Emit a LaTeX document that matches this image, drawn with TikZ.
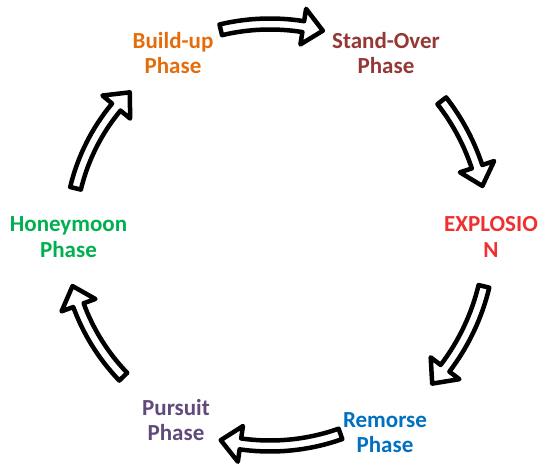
\documentclass[tikz,border=0pt]{standalone}
\usepackage{fontspec}
\setmainfont{Carlito}
\definecolor{buildc}{RGB}{228,108,10}
\definecolor{standc}{RGB}{149,55,53}
\definecolor{explc}{RGB}{240,48,48}
\definecolor{remc}{RGB}{0,112,192}
\definecolor{pursc}{RGB}{96,74,123}
\definecolor{honc}{RGB}{0,176,80}
\newcommand\arrSW{5.5}
\newcommand\arrHW{18}
\newcommand\arrHL{20}
% #1 start angle, #2 end angle (tip), #3 radius, around coordinate (c)
\newcommand\blockarc[3]{%
  \pgfmathsetmacro\arcH{#2+(\arrHL/#3)*180/pi}%
  \pgfmathsetmacro\rOut{#3+\arrSW}%
  \pgfmathsetmacro\rIn{#3-\arrSW}%
  \pgfmathsetmacro\rHo{#3+\arrHW}%
  \pgfmathsetmacro\rHi{#3-\arrHW}%
  \draw[blockarrow] ([shift={(#1:\rOut)}]c)
    arc[start angle=#1, end angle=\arcH, radius=\rOut]
    -- ([shift={(\arcH:\rHo)}]c)
    -- ([shift={(#2:#3)}]c)
    -- ([shift={(\arcH:\rHi)}]c)
    -- ([shift={(\arcH:\rIn)}]c)
    arc[start angle=\arcH, end angle=#1, radius=\rIn]
    -- cycle;
}
\begin{document}
\begin{tikzpicture}[x=1pt,y=1pt,
  phase/.style={font=\bfseries\fontsize{23}{25.5}\selectfont, align=center, inner sep=0pt},
  blockarrow/.style={draw=black, line width=4.5pt, fill=white, line join=round}]
\useasboundingbox (0,0) rectangle (541,470);
\coordinate (c) at (270,235);
\node[phase, text=buildc] (build) at (173,417) {Build-up\\Phase};
\node[phase, text=standc] (stand) at (386,417) {Stand-Over\\Phase};
\node[phase, text=explc] (expl) at (491,233) {EXPLOSIO\\N};
\node[phase, text=remc] (remorse) at (385,37.5) {Remorse\\Phase};
\node[phase, text=pursc] (pursuit) at (176,50) {Pursuit\\Phase};
\node[phase, text=honc] (honey) at (68.5,233) {Honeymoon\\Phase};
\blockarc{103.5}{75.5}{211}
\blockarc{38}{13}{218}
\blockarc{-13.5}{-42.5}{220}
\blockarc{-70.5}{-103.5}{211}
\blockarc{224}{194.5}{204}
\blockarc{166.5}{134.5}{200}
\end{tikzpicture}
\end{document}
